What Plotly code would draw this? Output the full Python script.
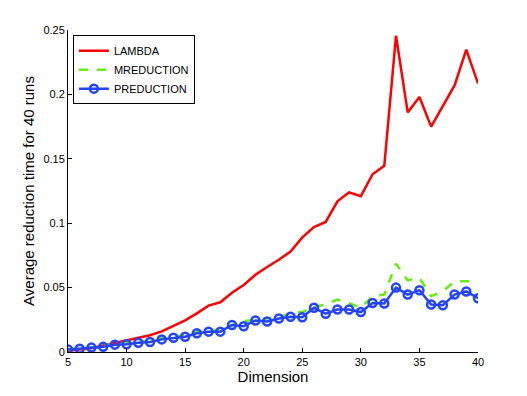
import plotly.graph_objects as go

dims = list(range(5, 41))

lambda_t = [0.001, 0.002, 0.003, 0.005, 0.007, 0.009, 0.011, 0.013, 0.016, 0.020,
            0.0245, 0.030, 0.036, 0.0386, 0.046, 0.052, 0.060, 0.066, 0.0716, 0.078,
            0.089, 0.097, 0.101, 0.117, 0.124, 0.121, 0.138, 0.1445, 0.2455, 0.186,
            0.198, 0.175, 0.191, 0.207, 0.2347, 0.2085]

mreduction_t = [0.002, 0.003, 0.004, 0.0048, 0.0065, 0.007, 0.008, 0.0088, 0.0108, 0.012,
                0.013, 0.016, 0.0165, 0.017, 0.021, 0.024, 0.025, 0.026, 0.027, 0.030,
                0.031, 0.035, 0.0369, 0.0407, 0.038, 0.0343, 0.0433, 0.0446, 0.0686, 0.0557,
                0.0575, 0.0433, 0.047, 0.0549, 0.0547, 0.055]

preduction_t = [0.002, 0.0026, 0.0034, 0.004, 0.0057, 0.006, 0.0072, 0.0077, 0.0098, 0.011,
                0.0119, 0.0145, 0.0158, 0.0158, 0.021, 0.020, 0.0245, 0.0237, 0.026, 0.0274,
                0.027, 0.0343, 0.0297, 0.033, 0.033, 0.031, 0.038, 0.0376, 0.050, 0.0446,
                0.048, 0.0369, 0.0363, 0.0446, 0.047, 0.0417]

fig = go.Figure()
fig.add_trace(go.Scatter(x=dims, y=lambda_t, name="LAMBDA", mode="lines",
                         line=dict(color="#ff0000", width=2.5)))
fig.add_trace(go.Scatter(x=dims, y=mreduction_t, name="MREDUCTION", mode="lines",
                         line=dict(color="#66ee11", width=2.5, dash="dash")))
fig.add_trace(go.Scatter(x=dims, y=preduction_t, name="PREDUCTION", mode="lines+markers",
                         line=dict(color="#2244ff", width=2.5),
                         marker=dict(symbol="circle-open", size=8, color="#2244ff",
                                     line=dict(width=2.5, color="#2244ff"))))

font_family = "Liberation Sans"

axis_style = dict(
    showline=True, linecolor="black", linewidth=1, mirror=False, automargin=False,
    ticks="inside", ticklen=4, tickcolor="black", showgrid=False, zeroline=False,
    tickfont=dict(family=font_family, size=11, color="black"),
)

# page body adds ~8px offset, margins compensate for it
fig.update_layout(
    width=527, height=396,
    margin=dict(l=60, r=57, t=22, b=52),
    paper_bgcolor="white", plot_bgcolor="white",
    font=dict(family=font_family, color="black"),
    xaxis=dict(range=[5, 40], tickvals=list(range(5, 41, 5)),
               title=dict(text="Dimension", font=dict(size=15), standoff=2), **axis_style),
    yaxis=dict(range=[0, 0.25], tickvals=[0, 0.05, 0.1, 0.15, 0.2, 0.25],
               ticktext=["0", "0.05", "0.1", "0.15", "0.2", "0.25"],
               title=dict(text="Average reduction time for 40 runs", font=dict(size=15), standoff=5),
               **axis_style),
    legend=dict(x=0.012, y=0.984, xanchor="left", yanchor="top",
                bgcolor="white", bordercolor="black", borderwidth=1,
                font=dict(family=font_family, size=11), tracegroupgap=0),
    showlegend=True,
)

fig.write_html("out.html")
